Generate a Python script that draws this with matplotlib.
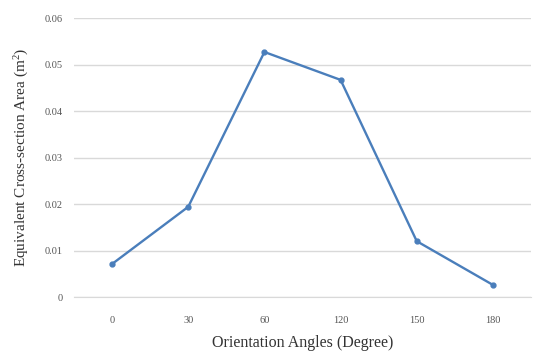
import numpy as np
import matplotlib.pyplot as plt

# Data
angles = ['0', '30', '60', '120', '150', '180']
area = [0.0071, 0.0194, 0.0527, 0.0467, 0.0120, 0.0026]
yticks = [0, 0.01, 0.02, 0.03, 0.04, 0.05, 0.06]
ytick_labels = ['0', '0.01', '0.02', '0.03', '0.04', '0.05', '0.06']

plt.rcParams['font.family'] = ['Liberation Serif', 'DejaVu Serif']
plt.rcParams['mathtext.default'] = 'regular'

fig = plt.figure(figsize=(5.5, 3.54), dpi=100)
ax = fig.add_axes([0.1345, 0.161, 0.831, 0.788])

x = np.arange(len(angles))
ax.plot(x, area, '-o', color='#4a7ebb', linewidth=1.7, markersize=3.5)

ax.set_xlim(-0.5, len(angles) - 0.5)
ax.set_ylim(0, 0.06)
ax.set_xticks(x)
ax.set_xticklabels(angles, fontsize=7.5, color='#555555')
ax.set_yticks(yticks)
ax.set_yticklabels(ytick_labels, fontsize=7.5, color='#555555')
ax.tick_params(axis='y', length=0, pad=8)
ax.tick_params(axis='x', length=0, pad=14)

ax.grid(axis='y', color='#d9d9d9', linewidth=1)
ax.set_axisbelow(True)
for side in ['top', 'right', 'left']:
    ax.spines[side].set_visible(False)
ax.spines['bottom'].set_color('#d9d9d9')

ax.set_xlabel('Orientation Angles (Degree)', fontsize=11.5, color='#333333', labelpad=7)
ax.set_ylabel('Equivalent Cross-section Area (m$^{2}$)', fontsize=11, color='#333333', labelpad=10)

plt.savefig('out.png', dpi=100)
plt.close()
